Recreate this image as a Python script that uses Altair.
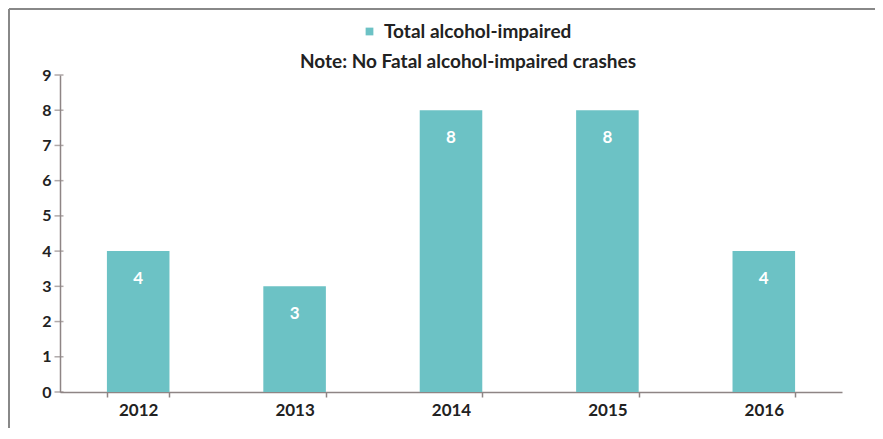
import altair as alt
import pandas as pd

years = ["2012", "2013", "2014", "2015", "2016"]
values = [4, 3, 8, 8, 4]
series = ["Total alcohol-impaired"] * 5
y_ticks = [0, 1, 2, 3, 4, 5, 6, 7, 8, 9]
note = "Note: No Fatal alcohol-impaired crashes"

df = pd.DataFrame({"year": years, "value": values, "series": series})
ticks_df = pd.DataFrame({"value": y_ticks})

TEAL = "#6cc2c5"
AXIS = "#8e8585"
FONT = "Lato"
W, H = 782, 317
PL, PT, PR, PB = 52, 67, 33, 36

xenc = alt.X(
    "year:N",
    sort=years,
    scale=alt.Scale(paddingInner=0.6, paddingOuter=0.3),
    axis=alt.Axis(
        title=None, labelAngle=0, tickBand="extent", domainColor=AXIS,
        tickColor=AXIS, tickSize=5, tickWidth=1.5, labelFont=FONT,
        labelFontSize=17, labelFontWeight="bold", labelColor="#222222",
        labelPadding=5, domainWidth=1.5,
    ),
)
yscale = alt.Scale(domain=[0, 9], nice=False)
yaxis = alt.Axis(
    title=None, values=y_ticks, labelOverlap=False, ticks=False,
    grid=False, domainColor=AXIS, labelFont=FONT, labelFontSize=16,
    labelFontWeight="bold", labelColor="#222222", labelPadding=9,
    domainWidth=1.5,
)
yenc = alt.Y("value:Q", scale=yscale, axis=yaxis)

bars = alt.Chart(df).mark_bar(color=TEAL).encode(
    x=xenc,
    y=yenc,
    color=alt.Color(
        "series:N",
        scale=alt.Scale(range=[TEAL]),
        legend=alt.Legend(
            orient="none", legendX=300, legendY=-53, title=None,
            symbolType="square", symbolSize=60, labelFont=FONT,
            labelFontSize=19, labelFontWeight="bold", labelColor="#222222",
            labelOffset=5, labelLimit=400,
        ),
    ),
)

labels = alt.Chart(df).mark_text(
    color="white", font=FONT, fontSize=17, fontWeight="bold",
    baseline="top", dy=20,
).encode(x=xenc, y=yenc, text="value:Q")

yticks = alt.Chart(ticks_df).mark_tick(
    color=AXIS, orient="horizontal", size=9, thickness=1.5
).encode(y=yenc, x=alt.value(-1))

note_text = alt.Chart(pd.DataFrame({"t": [note]})).mark_text(
    font=FONT, fontSize=19, fontWeight="bold", color="#222222",
    baseline="middle", align="center",
).encode(x=alt.value(W / 2 + 17), y=alt.value(-13), text="t:N")

frame_left = alt.Chart(df).mark_rule(color="#888888", strokeWidth=2).encode(
    x=alt.value(-PL + 1), y=alt.value(-PT + 1), y2=alt.value(H + PB)
)
frame_top = alt.Chart(df).mark_rule(color="#888888", strokeWidth=2).encode(
    x=alt.value(-PL + 1), x2=alt.value(W + PR), y=alt.value(-PT + 1)
)

chart = alt.layer(bars, labels, yticks, note_text, frame_left, frame_top).properties(
    width=W,
    height=H,
    autosize=alt.AutoSizeParams(type="none"),
    padding={"left": PL, "top": PT, "right": PR, "bottom": PB},
).configure(background="white").configure_view(strokeWidth=0)

chart.save("out.html", embed_options={"renderer": "svg", "actions": False})
